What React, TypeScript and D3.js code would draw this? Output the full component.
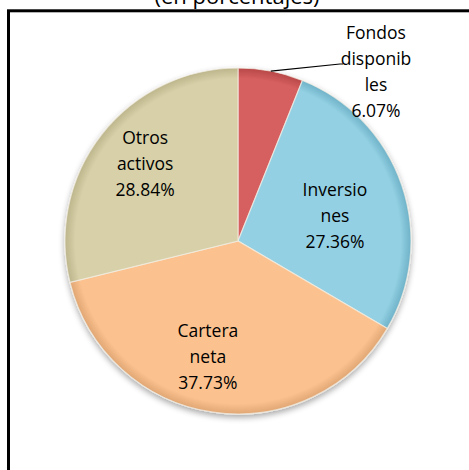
import React from "react";
import * as d3 from "d3";

const categories = ["Fondos disponibles", "Inversiones", "Cartera neta", "Otros activos"];
const values = [6.07, 27.36, 37.73, 28.84];
const labelLines = [
  ["Fondos", "disponib", "les", "6.07%"],
  ["Inversio", "nes", "27.36%"],
  ["Cartera", "neta", "37.73%"],
  ["Otros", "activos", "28.84%"],
];
const colors = ["#D65F5F", "#93D0E3", "#FBC28F", "#D7D0A8"];
const darkColors = ["#B84848", "#6FB2C8", "#E0A673", "#BDB58C"];
const title = "(en porcentajes)";

const W = 469, H = 470;
const cx = 238, cy = 241, R = 173;
const FONT = "'Open Sans', Lato, sans-serif";
// label nudges relative to the arc centroid (layout, not data)
const nudge: [number, number][] = [[0, 0], [-16, 14], [-13, -2], [1, -3]];

export default function App() {
  const pie = d3.pie<number>().sort(null).value((d) => d)(values);
  const arc = d3.arc<d3.PieArcDatum<number>>().innerRadius(0).outerRadius(R);
  const labelArc = d3.arc<d3.PieArcDatum<number>>().innerRadius(R * 0.69).outerRadius(R * 0.69);
  const lineH = 26;
  const fs = 17.5;

  return (
    <svg width={W} height={H} style={{ position: "absolute", left: 0, top: 0, background: "#fff" }}>
      <defs>
        <filter id="shadow" x="-20%" y="-20%" width="140%" height="140%">
          <feGaussianBlur in="SourceAlpha" stdDeviation="3" />
          <feOffset dx="0" dy="3" result="b" />
          <feComponentTransfer><feFuncA type="linear" slope="0.35" /></feComponentTransfer>
          <feMerge><feMergeNode /><feMergeNode in="SourceGraphic" /></feMerge>
        </filter>
        {colors.map((c, i) => (
          <radialGradient key={i} id={`g${i}`} cx={0} cy={0} r={R} gradientUnits="userSpaceOnUse">
            <stop offset="0%" stopColor={c} />
            <stop offset="94%" stopColor={c} />
            <stop offset="100%" stopColor={darkColors[i]} />
          </radialGradient>
        ))}
      </defs>
      <text x={237} y={4} textAnchor="middle" fontFamily={FONT} fontSize={22} fill="#000">{title}</text>
      <rect x={8.5} y={10.8} width={560} height={560} fill="none" stroke="#000" strokeWidth={3} />
      <g transform={`translate(${cx},${cy})`} filter="url(#shadow)">
        {pie.map((p, i) => (
          <path key={categories[i]} d={arc(p) || ""} fill={`url(#g${i})`} stroke="#f4f0e6" strokeOpacity={0.7} strokeWidth={1.2} />
        ))}
      </g>
      <g transform={`translate(${cx},${cy})`}>
        {pie.map((p, i) => {
          if (i === 0) return null;
          const [lx0, ly0] = labelArc.centroid(p);
          const lx = lx0 + nudge[i][0], ly = ly0 + nudge[i][1];
          const n = labelLines[i].length;
          return (
            <text key={i} textAnchor="middle" fontFamily={FONT} fontSize={fs} fill="#000">
              {labelLines[i].map((t, k) => (
                <tspan key={k} x={lx} y={ly + (k - (n - 1) / 2) * lineH + 6}>{t}</tspan>
              ))}
            </text>
          );
        })}
        {(() => {
          const p = pie[0];
          const mid = (p.startAngle + p.endAngle) / 2;
          const sx = Math.sin(mid) * R, sy = -Math.cos(mid) * R;
          const tx = 138, ty = -169;
          const n = labelLines[0].length;
          return (
            <g>
              <polyline points={`${sx},${sy} ${tx - 36},${ty - 8} ${tx - 33},${ty - 8}`} fill="none" stroke="#000" strokeWidth={1.2} />
              <text textAnchor="middle" fontFamily={FONT} fontSize={fs} fill="#000">
                {labelLines[0].map((t, k) => (
                  <tspan key={k} x={tx} y={ty + (k - (n - 1) / 2) * lineH + 6}>{t}</tspan>
                ))}
              </text>
            </g>
          );
        })()}
      </g>
    </svg>
  );
}
